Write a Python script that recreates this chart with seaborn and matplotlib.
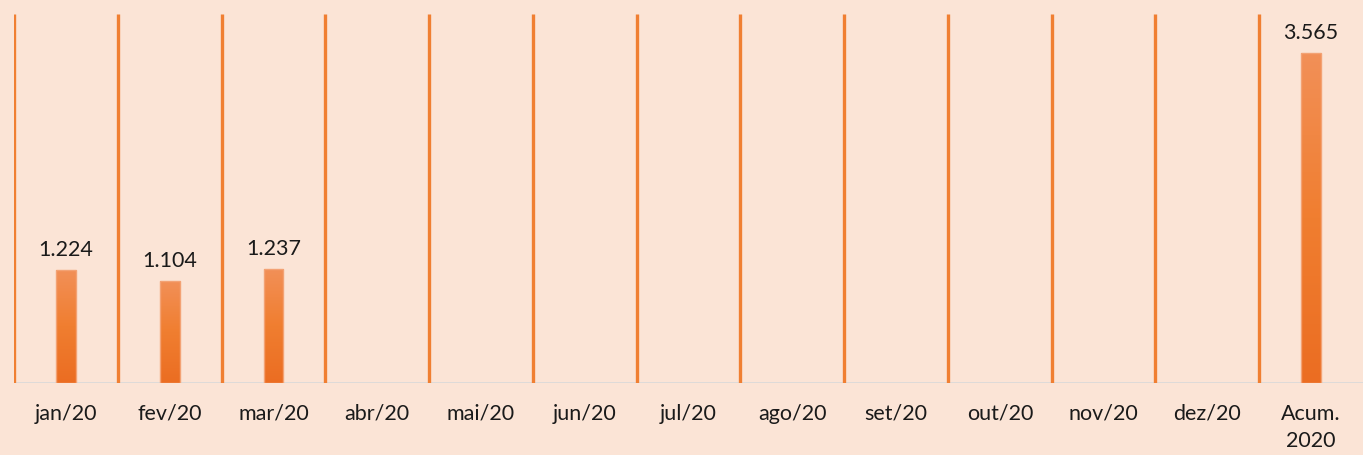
import numpy as np
import pandas as pd
import seaborn as sns
import matplotlib.pyplot as plt
from matplotlib.colors import LinearSegmentedColormap

# dados
categorias = ["jan/20", "fev/20", "mar/20", "abr/20", "mai/20", "jun/20", "jul/20",
              "ago/20", "set/20", "out/20", "nov/20", "dez/20", "Acum.\n2020"]
valores = [1224, 1104, 1237, np.nan, np.nan, np.nan, np.nan,
           np.nan, np.nan, np.nan, np.nan, np.nan, 3565]
rotulos = ["1.224", "1.104", "1.237", "", "", "", "", "", "", "", "", "", "3.565"]

FUNDO = "#FBE4D6"
LARANJA = "#F07F32"
COR_TOPO = "#F29058"
COR_BASE = "#EB6D22"

sns.set_theme(style="white")
plt.rcParams["font.family"] = ["Lato", "DejaVu Sans"]

df = pd.DataFrame({"mes": categorias, "valor": valores}).dropna()

fig = plt.figure(figsize=(13.63, 4.55), dpi=100, facecolor=FUNDO)
ax = fig.add_axes([0.0103, 0.158, 0.9897, 0.811])
ax.set_facecolor(FUNDO)

sns.barplot(data=df, x="mes", y="valor", order=categorias, width=0.19,
            color=LARANJA, edgecolor="#F3A274", linewidth=1, ax=ax)

ymax = 3985

# gradiente nas barras
grad = np.linspace(0, 1, 256).reshape(-1, 1)
cmap = LinearSegmentedColormap.from_list("g", [COR_BASE, "#F07E30", COR_TOPO])
for p in ax.patches:
    x0, y0 = p.get_x(), p.get_y()
    w, h = p.get_width(), p.get_height()
    if np.isnan(h) or h == 0:
        continue
    im = ax.imshow(grad, cmap=cmap, origin="lower", aspect="auto",
                   extent=[x0, x0 + w, y0, y0 + h], zorder=p.get_zorder() + 0.1)
    im.set_clip_path(p)
    p.set_facecolor("none")
    p.set_zorder(p.get_zorder() + 0.2)
ax.set_xlim(-0.5, len(categorias) - 0.5)
ax.set_ylim(0, ymax)

# linhas verticais entre os meses
for i in range(len(categorias)):
    ax.vlines(i - 0.5, 0, ymax, color=LARANJA, lw=2.4, zorder=1)

ax.axhline(0, color="#D9D9D9", lw=1.2, zorder=0.5)

for i, (v, r) in enumerate(zip(valores, rotulos)):
    if not np.isnan(v):
        ax.annotate(r, (i, v), xytext=(0, 7), textcoords="offset points",
                    ha="center", va="bottom", fontsize=15.5, color="#1a1a1a")

ax.set_xlabel("")
ax.set_ylabel("")
ax.set_yticks([])
ax.tick_params(axis="x", length=0, pad=15, labelsize=15.5, labelcolor="#1a1a1a")
for t in ax.get_xticklabels():
    t.set_linespacing(1.45)
for s in ax.spines.values():
    s.set_visible(False)

fig.savefig("out.png", dpi=100, facecolor=FUNDO)
